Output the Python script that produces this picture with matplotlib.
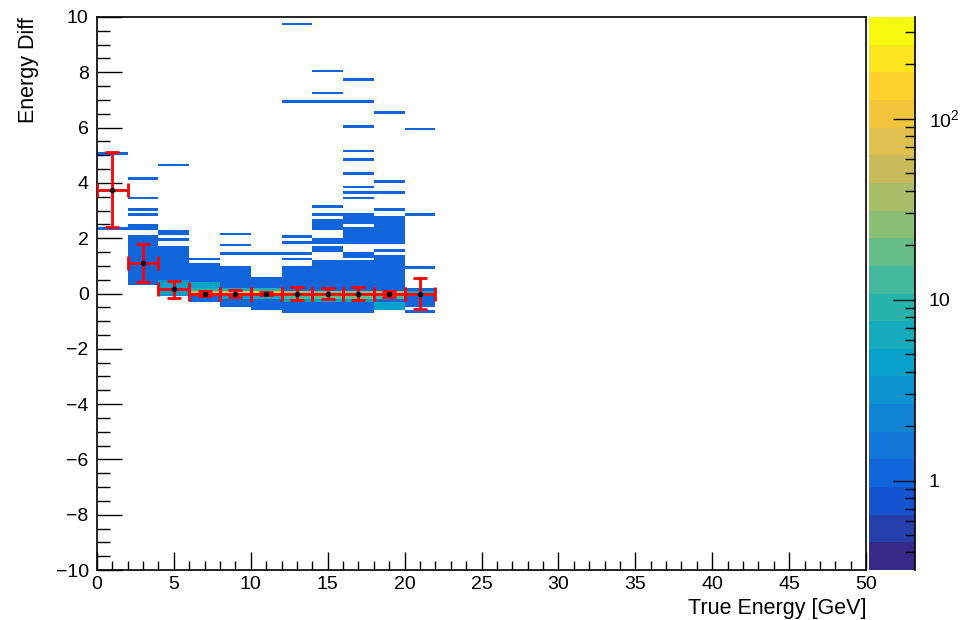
import numpy as np
import matplotlib
matplotlib.use("Agg")
import matplotlib.pyplot as plt
from matplotlib.colors import LinearSegmentedColormap, LogNorm
from matplotlib.ticker import MultipleLocator, LogLocator, FixedLocator, FixedFormatter

plt.rcParams['font.family'] = ['Liberation Sans', 'DejaVu Sans']
plt.rcParams['mathtext.fontset'] = 'custom'
plt.rcParams['mathtext.rm'] = 'Liberation Sans'

# histogram binning (true energy 0-50 GeV in 2 GeV bins, diff in 0.1 steps)
x_edges = np.linspace(0, 50, 26)
y_edges = np.linspace(-10, 10, 201)

# single entries: bin centre in true energy, energy diff
single_x = [1, 1,
            3, 3, 3, 3, 3, 3,
            5, 5, 5, 5,
            7, 7,
            9, 9, 9, 9,
            11,
            13, 13, 13, 13, 13, 13,
            15, 15, 15, 15, 15, 15, 15, 15, 15, 15, 15, 15, 15,
            17, 17, 17, 17, 17, 17, 17, 17, 17,
            19, 19, 19, 19, 19, 19,
            21, 21, 21, 21]
single_y = [5.1, 2.4,
            4.2, 3.45, 3.1, 2.9, 2.45, 2.35,
            4.65, 2.3, 2.2, 1.95,
            1.25, 1.05,
            2.2, 1.75, 1.45, 0.95,
            1.45,
            9.75, 6.95, 2.0, 1.9, 1.45, 1.3,
            8.0, 7.3, 6.95, 3.2, 2.85, 2.7, 2.55, 2.45, 2.35, 1.95, 1.85, 1.65, 1.55,
            7.75, 6.95, 6.0, 5.2, 4.85, 4.35, 3.85, 3.65, 3.45,
            6.55, 4.0, 3.65, 3.1, 2.8, 1.55,
            5.9, 2.9, 0.95, -0.65]

# contiguous runs of occupied bins: column centre, lowest and highest diff
band_x = [3, 5, 7, 9, 11, 13, 15, 17, 17, 17, 17, 17, 19, 19, 21]
band_lo = [0.3, -0.1, -0.3, -0.5, -0.6, -0.7, -0.7, 2.5, 2.05, 1.8, 1.35, -0.65, 1.8, -0.6, -0.5]
band_hi = [2.1, 1.7, 0.95, 0.85, 0.6, 1.0, 1.2, 2.85, 2.4, 1.95, 1.5, 1.2, 2.7, 1.4, 0.2]

# well populated cells around zero
hot_x = [5, 5, 5, 5, 5, 5,
         7, 7, 7, 7, 7,
         9, 9, 9, 9,
         11, 11, 11, 11,
         13, 13, 13, 13,
         15, 15, 15, 15,
         17, 17, 17, 17,
         19, 19, 19, 19, 19, 19,
         21, 21]
hot_y = [0.45, 0.35, 0.25, 0.15, 0.05, -0.05,
         0.35, 0.25, 0.15, 0.05, -0.05,
         0.15, 0.05, -0.05, -0.15,
         0.15, 0.05, -0.05, -0.15,
         0.05, -0.05, -0.15, -0.25,
         0.05, -0.05, -0.15, -0.25,
         0.05, -0.05, -0.15, -0.25,
         0.05, -0.05, -0.15, -0.35, -0.45, -0.55,
         0.05, -0.05]
hot_n = [3, 4, 5, 6, 5, 3,
         4, 4, 8, 60, 40,
         6, 80, 60, 5,
         8, 150, 120, 6,
         40, 200, 12, 4,
         30, 300, 20, 5,
         30, 350, 20, 5,
         40, 250, 15, 5, 5, 4,
         6, 20]

# profile of the same histogram
prof_x = [1, 3, 5, 7, 9, 11, 13, 15, 17, 19, 21]
prof_y = [3.75, 1.1, 0.15, 0.0, 0.0, 0.0, 0.0, 0.0, 0.0, -0.02, 0.0]
prof_err = [1.35, 0.7, 0.3, 0.08, 0.12, 0.06, 0.25, 0.2, 0.22, 0.1, 0.55]
prof_xerr = 1.0

# ROOT kBird palette
bird_stops = [0.0, 0.125, 0.25, 0.375, 0.5, 0.625, 0.75, 0.875, 1.0]
bird_r = [0.2082, 0.0592, 0.0780, 0.0232, 0.1802, 0.5301, 0.8186, 0.9956, 0.9764]
bird_g = [0.1664, 0.3599, 0.5041, 0.6419, 0.7178, 0.7492, 0.7328, 0.7862, 0.9832]
bird_b = [0.5293, 0.8684, 0.8385, 0.7914, 0.6425, 0.4662, 0.3499, 0.1968, 0.0539]
bird = LinearSegmentedColormap.from_list(
    'bird', list(zip(bird_stops, zip(bird_r, bird_g, bird_b)))).resampled(20)


def build_hist():
    H, _, _ = np.histogram2d(single_x, single_y, bins=[x_edges, y_edges])
    Hh, _, _ = np.histogram2d(hot_x, hot_y, bins=[x_edges, y_edges], weights=hot_n)
    H = np.maximum(H, Hh)
    xc = 0.5 * (x_edges[:-1] + x_edges[1:])
    yc = 0.5 * (y_edges[:-1] + y_edges[1:])
    for bx, lo, hi in zip(band_x, band_lo, band_hi):
        ix = np.argmin(np.abs(xc - bx))
        sel = (yc > lo - 0.04) & (yc < hi + 0.04)
        H[ix, sel] = np.maximum(H[ix, sel], 1)
    return H


def draw():
    H = build_hist()
    fig = plt.figure(figsize=(9.63, 6.2), dpi=100)
    ax = fig.add_axes([0.1007, 0.0806, 0.7986, 0.8920])
    cax = fig.add_axes([0.9024, 0.0806, 0.0478, 0.8920])

    norm = LogNorm(vmin=0.32, vmax=365)
    mesh = ax.pcolormesh(x_edges, y_edges, np.ma.masked_equal(H.T, 0),
                         cmap=bird, norm=norm, antialiased=False, linewidth=0)

    ax.errorbar(prof_x, prof_y, yerr=prof_err, xerr=prof_xerr, fmt='o',
                color='red', ecolor='red', elinewidth=2, capsize=5, capthick=2,
                markersize=3, markerfacecolor='black', markeredgecolor='black',
                zorder=5)

    ax.set_xlim(0, 50)
    ax.set_ylim(-10, 10)
    ax.xaxis.set_major_locator(MultipleLocator(5))
    ax.xaxis.set_minor_locator(MultipleLocator(1))
    ax.yaxis.set_major_locator(MultipleLocator(2))
    ax.yaxis.set_minor_locator(MultipleLocator(0.5))
    ax.tick_params(axis='x', which='major', direction='in', length=13, width=1,
                   labelsize=14, pad=4, top=False)
    ax.tick_params(axis='x', which='minor', direction='in', length=6.5, width=1, top=False)
    ax.tick_params(axis='y', which='major', direction='in', length=18, width=1,
                   labelsize=14, pad=6, right=False)
    ax.tick_params(axis='y', which='minor', direction='in', length=9, width=1, right=False)
    for s in ax.spines.values():
        s.set_linewidth(1.2)

    ax.set_xlabel('True Energy [GeV]', fontsize=15.5, loc='right', labelpad=4)
    ax.set_ylabel('Energy Diff', fontsize=15.5, loc='top', labelpad=12)

    cb = fig.colorbar(mesh, cax=cax)
    cb.outline.set_visible(False)
    cax.plot([1, 1], [0, 1], color='black', lw=1.2, transform=cax.transAxes,
             clip_on=False)
    cax.yaxis.set_major_locator(FixedLocator([1, 10, 100]))
    cax.yaxis.set_major_formatter(FixedFormatter(['1', '10', r'$10^{2}$']))
    cax.yaxis.set_minor_locator(LogLocator(base=10, subs=np.arange(2, 10)))
    cax.yaxis.set_minor_formatter(FixedFormatter([]))
    cax.tick_params(axis='y', which='major', direction='in', length=16, width=1,
                    labelsize=14, pad=10)
    cax.tick_params(axis='y', which='minor', direction='in', length=7, width=1)

    return fig


if __name__ == '__main__':
    fig = draw()
    fig.savefig('out.png', dpi=100)
